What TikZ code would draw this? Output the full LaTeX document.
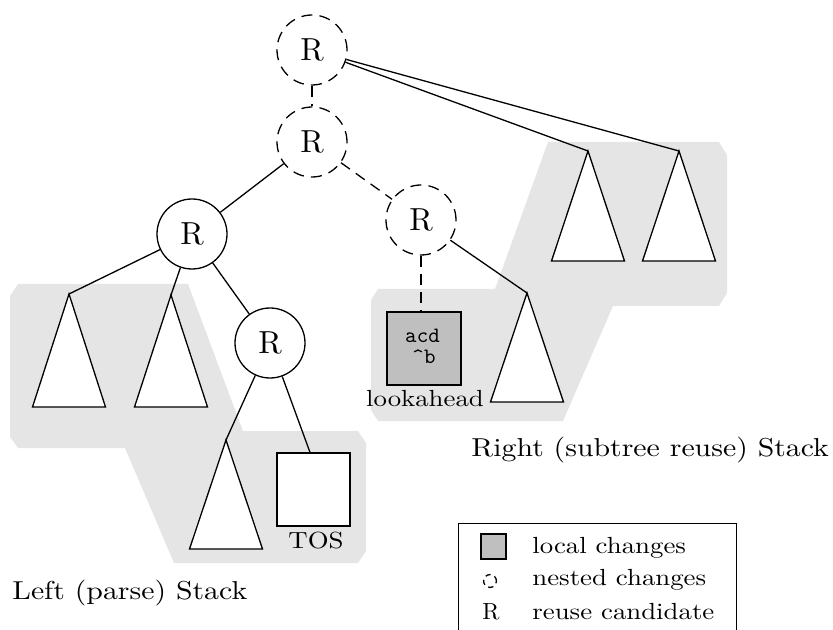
\documentclass[tikz,border=0pt]{standalone}
\usepackage{graphicx}
\usepackage{fontspec}
% Use the 10pt design of Latin Modern at every size for a sturdier text colour
\setmainfont{lmroman10-regular.otf}
\setmonofont{lmmono10-regular.otf}
\definecolor{stackgray}{HTML}{E5E5E5}
\definecolor{localgray}{HTML}{BFBFBF}
% Slightly widened roman text for the labels
\newcommand{\wtext}[1]{\scalebox{1.15}[1]{#1}}
% Subtree triangle hanging from a named apex: #1 apex, #2 height
\newcommand{\subtreeat}[2]{\filldraw[subtree] (#1) -- ++(-36.5,#2) -- ++(73,0) -- cycle;}
\tikzset{
  edge/.style={line width=0.65bp},
  nested/.style={dash pattern=on 5.5bp off 3.6bp},
  nestedsmall/.style={dash pattern=on 2.6bp off 2.1bp},
  reuse/.style={circle, draw, line width=0.65bp, minimum size=35bp, inner sep=0pt,
    font=\fontsize{16}{18}\selectfont},
  subtree/.style={draw, fill=white, line width=0.65bp, line join=miter},
  stackarea/.style={fill=stackgray},
  boxnode/.style={draw, line width=0.65bp, inner sep=0pt},
  biglabel/.style={inner sep=0pt, anchor=base west, font=\fontsize{13}{15}\selectfont},
  smalllabel/.style={inner sep=0pt, font=\fontsize{11.7}{14}\selectfont},
  monotext/.style={inner sep=0pt, anchor=base, font=\ttfamily\fontsize{11}{10}\selectfont},
}
\begin{document}
\begin{tikzpicture}[x=0.5bp, y=-0.5bp]
\useasboundingbox (0,0) rectangle (833,630);
\clip (0,0) rectangle (833,630);

% shaded stack areas
\fill[stackarea] (18,284) -- (188,284) -- (243,431) -- (358,431) -- (366,443)
  -- (366,551) -- (358,563) -- (174,563) -- (125,448) -- (18,448)
  -- (10,437) -- (10,296) -- cycle;
\fill[stackarea] (378,289) -- (495,289) -- (548,142) -- (719,142) -- (727,155)
  -- (727,293) -- (719,306) -- (613,306) -- (563,421) -- (378,421)
  -- (371,410) -- (371,300) -- cycle;

% reuse candidates
\node[reuse, nested] (r1) at (312,50) {R};
\node[reuse, nested] (r2) at (312,142) {R};
\node[reuse] (r3) at (192,234) {R};
\node[reuse, nested] (r4) at (421,220) {R};
\node[reuse] (r5) at (270,343) {R};

% subtree apexes
\coordinate (a1) at (69,294);
\coordinate (a2) at (171,295);
\coordinate (a3) at (226,440);
\coordinate (a4) at (527,293);
\coordinate (a5) at (588,151);
\coordinate (a6) at (679,151);

% top of stack and lookahead
\node[boxnode, fill=white, minimum width=36.5bp, minimum height=36.5bp] (tos) at (313.5,489.5) {};
\node[boxnode, fill=localgray, minimum width=37bp, minimum height=36.5bp] (la) at (424,348.5) {};
\node[monotext] (lacur) at (422.5,342.5) {acd};
\node[monotext] (lanext) at (424,364) {\textasciicircum b};

% connectors
\draw[edge] (r3) -- (a1);
\draw[edge] (r3) -- (a2);
\draw[edge] (r3) -- (r5);
\draw[edge] (r5) -- (a3);
\draw[edge] (r5) -- ([xshift=-1.75bp]tos.north);
\draw[edge] (r2) -- (r3);
\draw[edge] (r4) -- (a4);
\draw[edge] (r1) -- (a5);
\draw[edge] (r1) -- (a6);
\draw[edge, nested] (r1) -- (r2);
\draw[edge, nested] (r2) -- (r4);
\draw[edge, nested] (r4) -- (r4 |- la.north);

% subtrees
\subtreeat{a1}{113}
\subtreeat{a2}{112}
\subtreeat{a3}{109}
\subtreeat{a4}{109}
\subtreeat{a5}{110}
\subtreeat{a6}{110}

% labels
\node[smalllabel, anchor=base] (toslabel) at (316,548) {\wtext{TOS}};
\node[smalllabel, anchor=base] (lalabel) at (425,407) {\wtext{lookahead}};
\node[biglabel] (lefttitle) at (12,599) {\wtext{Left (parse) Stack}};
\node[biglabel] (righttitle) at (471,456) {\wtext{Right (subtree reuse) Stack}};

% legend
\node[boxnode, minimum width=139bp, minimum height=70bp, anchor=north west] (legend) at (458,523) {};
\node[boxnode, fill=localgray, minimum size=12.5bp] (keylocal) at (493.5,546.5) {};
\node[circle, draw, line width=0.65bp, nestedsmall, minimum size=6.4bp, inner sep=0pt] (keynested) at (490,581) {};
\node[smalllabel, anchor=base] (keyreuse) at (491,619) {R};
\node[smalllabel, anchor=base west] (txtlocal) at (532,553) {\wtext{local changes}};
\node[smalllabel, anchor=base west] (txtnested) at (532,585) {\wtext{nested changes}};
\node[smalllabel, anchor=base west] (txtreuse) at (532,619) {\wtext{reuse candidate}};
\end{tikzpicture}
\end{document}
